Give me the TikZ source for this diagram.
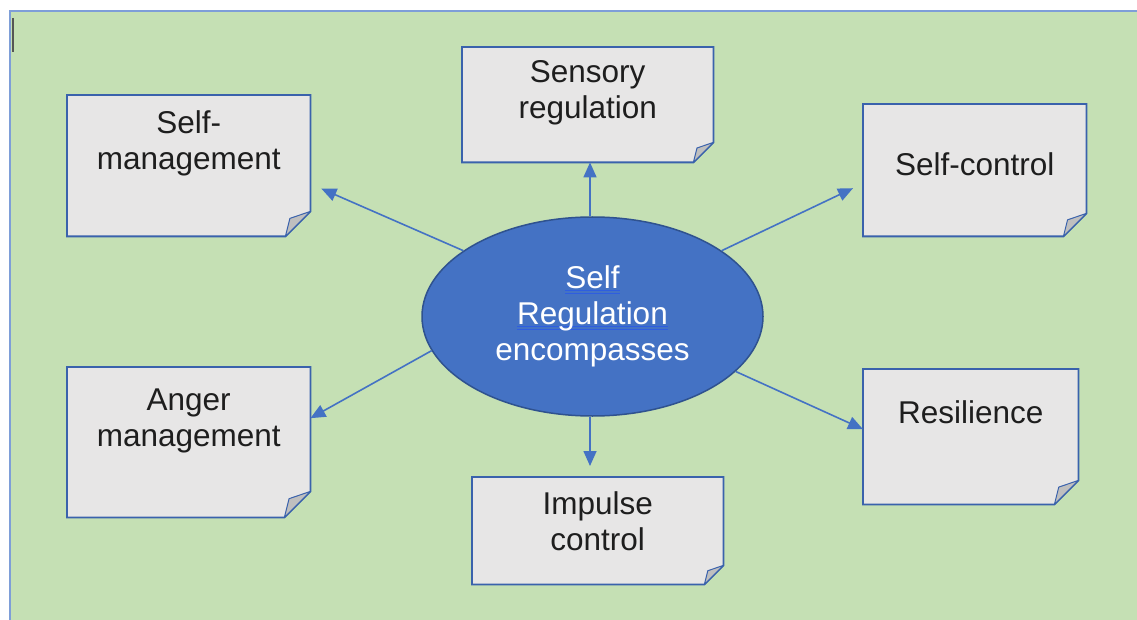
\documentclass[tikz,border=0pt]{standalone}
\usepackage{fontspec}
\setmainfont{Liberation Sans}
\usetikzlibrary{arrows.meta,shapes.geometric}
\definecolor{bggreen}{HTML}{C5E0B4}
\definecolor{frameblue}{HTML}{7E9ED8}
\definecolor{boxfill}{HTML}{E7E6E6}
\definecolor{boxline}{HTML}{3A62AC}
\definecolor{foldfill}{HTML}{BFBFBF}
\definecolor{accent}{HTML}{4472C4}
\definecolor{ellline}{HTML}{2F528F}
\definecolor{ulblue}{HTML}{2E5EE0}
\definecolor{cursorgray}{HTML}{555555}
\definecolor{inktext}{HTML}{1E1E1E}

\newlength\ulwidth
\newcommand\ulword[1]{\settowidth\ulwidth{#1}\makebox[0pt][l]{\textcolor{ulblue}{\rule[-2.5pt]{\ulwidth}{1.2pt}}}\makebox[0pt][l]{\textcolor{ulblue}{\rule[-5.5pt]{\ulwidth}{1.2pt}}}#1}

\tikzset{
  notebox/.style={draw=none, fill=none, inner sep=0pt, anchor=north west},
  notetext/.style={anchor=north, inner sep=0pt, align=center, font=\fontsize{31.5}{36}\selectfont, text=inktext},
  hub/.style={ellipse, draw=ellline, fill=accent, line width=1.5pt, inner sep=0pt, align=center, text=white, font=\fontsize{31.5}{36}\selectfont},
  link/.style={draw=accent, line width=1.6pt, -{Triangle[length=15pt,width=13pt]}},
}

\newcommand\foldnote[6]{%
  \node[notebox, minimum width={(#4)-(#2)}, minimum height={(#5)-(#3)}] (#1) at (#2,#3) {};
  \draw[line width=1.8pt, draw=boxline, fill=boxfill, line join=miter]
    (#1.north west) -- (#1.north east) -- ([yshift=#6pt]#1.south east)
    -- ([xshift=-#6pt]#1.south east) -- (#1.south west) -- cycle;
  \draw[line width=1pt, draw=boxline, fill=foldfill, line join=round]
    ([xshift=-#6pt]#1.south east) -- ([xshift={-0.82*#6pt}, yshift={0.72*#6pt}]#1.south east)
    -- ([yshift=#6pt]#1.south east) -- cycle;
}

\begin{document}
\begin{tikzpicture}[x=1pt, y=-1pt]
\useasboundingbox (0,0) rectangle (1137,620);
\fill[bggreen] (10,11) rectangle (1137,620);
\draw[frameblue, line width=2pt] (10,620) -- (10,11) -- (1137,11);
\draw[cursorgray, line width=1.5pt] (13,18) -- (13,52);

\foldnote{sm}{67}{95}{310}{236}{25}
\foldnote{sr}{462}{47}{713}{162}{20}
\foldnote{sc}{863}{104}{1086}{236}{23}
\foldnote{am}{67}{367}{310}{517}{26}
\foldnote{rs}{863}{369}{1078}{504}{24}
\foldnote{ic}{472}{477}{723}{584}{19}

\node[notetext] (smt) at ([yshift=-15pt]sm.north) {Self-\\management};
\node[notetext] (srt) at ([yshift=-13pt]sr.north) {Sensory\\regulation};
\node[notetext] (sct) at ([yshift=-48pt]sc.north) {Self-control};
\node[notetext] (amt) at ([yshift=-22pt]am.north) {Anger\\management};
\node[notetext] (rst) at ([yshift=-31pt]rs.north) {Resilience};
\node[notetext] (ict) at ([yshift=-14pt]ic.north) {Impulse\\control};

\node[hub, minimum width=341pt, minimum height=199pt] (c) at (592.5,316.5)
  {\ulword{Self}\\\ulword{Regulation}\\encompasses};

\draw[link] (c.153) -- ([xshift=11pt,yshift=-23pt]sm.east);
\draw[link] ([xshift=-2.5pt]c.north) -- ([xshift=-2.5pt]sr.south -| c.north);
\draw[link] (c.27) -- ([xshift=-10pt,yshift=-18pt]sc.west);
\draw[link] (c.192) -- ([yshift=24pt]am.east);
\draw[link] (c.339) -- ([yshift=7.5pt]rs.west);
\draw[link, shorten >=11pt] ([xshift=-2.5pt]c.south) -- ([xshift=-2.5pt]ic.north -| c.south);
\end{tikzpicture}
\end{document}
